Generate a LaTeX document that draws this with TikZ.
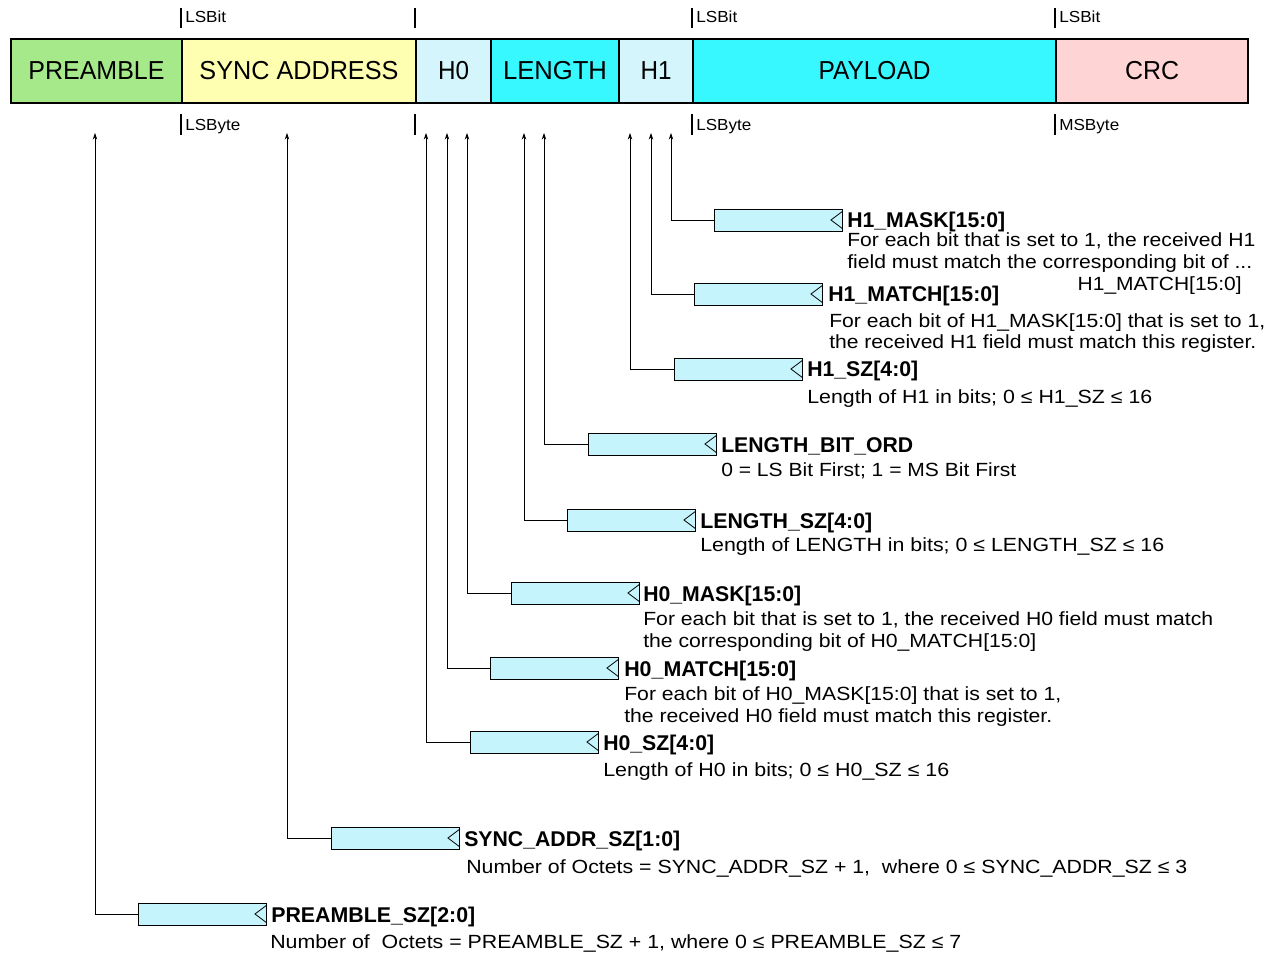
\documentclass[tikz,border=0pt]{standalone}
\usepackage{fontspec}
\setmainfont{Liberation Sans}
\usepackage{graphicx}
\usetikzlibrary{arrows.meta,calc}
\newlength\pxu
\setlength\pxu{0.75pt}
\newcommand\fitw[2]{\resizebox{#1\pxu}{\height}{#2}}
\newcommand\descfont{\fontsize{14.3}{17}\selectfont}
\newcommand\ttlfont{\fontsize{16}{19}\selectfont\bfseries}
\newcommand\smallfont{\fontsize{12}{14}\selectfont}
\newcommand\fieldfont{\fontsize{19.5}{23}\selectfont}
\definecolor{cPre}{HTML}{A6E98A}
\definecolor{cSync}{HTML}{FFFFB2}
\definecolor{cHdr}{HTML}{D4F5FC}
\definecolor{cLen}{HTML}{38F8FF}
\definecolor{cCrc}{HTML}{FFD4D4}
\definecolor{cReg}{HTML}{C6F4FC}
\tikzset{
  field/.style={draw=black, line width=1.5pt, minimum height=48pt, inner sep=0pt, anchor=west, font=\fieldfont},
  regbox/.style={draw=black, line width=0.7pt, fill=cReg, minimum width=96pt, minimum height=16.5pt, inner sep=0pt, anchor=west},
  notch/.style={draw=black, line width=0.6pt},
  conn/.style={draw=black, line width=0.6pt, -{Stealth[length=5pt,width=3.4pt]}},
  tickmark/.style={draw=black, line width=1.1pt},
  ttl/.style={inner sep=0pt, anchor=base west, font=\ttlfont},
  desc/.style={inner sep=0pt, anchor=base west, font=\descfont},
  lbl/.style={inner sep=0pt, anchor=base west, font=\smallfont}
}
\begin{document}
\begin{tikzpicture}[x=0.75pt,y=-0.75pt]
\useasboundingbox (0,0) rectangle (1277,955);
% fields
\node[field, fill=cPre, minimum width=128.25pt] (fpre) at (10,71) {\fitw{136}{PREAMBLE}};
\node[field, fill=cSync, minimum width=175.5pt] (fsync) at (181,71) {\fitw{199}{SYNC ADDRESS}};
\node[field, fill=cHdr, minimum width=56.25pt] (fh0) at (415,71) {\fitw{31}{H0}};
\node[field, fill=cLen, minimum width=96pt] (flen) at (490,71) {\fitw{104}{LENGTH}};
\node[field, fill=cHdr, minimum width=55.5pt] (fh1) at (618,71) {\fitw{31}{H1}};
\node[field, fill=cLen, minimum width=272.25pt] (fpay) at (692,71) {\fitw{112}{PAYLOAD}};
\node[field, fill=cCrc, minimum width=144pt] (fcrc) at (1055,71) {\fitw{54}{CRC}};
% ticks
\foreach \x in {181,415,692,1055}{
  \draw[tickmark] (\x,8) -- (\x,28);
  \draw[tickmark] (\x,114) -- (\x,135);
}
\node[lbl] (l1) at (185,23) {\fitw{41}{LSBit}};
\node[lbl] (l2) at (696,23) {\fitw{41}{LSBit}};
\node[lbl] (l3) at (1059,23) {\fitw{41}{LSBit}};
\node[lbl] (l4) at (185,131) {\fitw{55}{LSByte}};
\node[lbl] (l5) at (696,131) {\fitw{55}{LSByte}};
\node[lbl] (l6) at (1059,131) {\fitw{60}{MSByte}};
% register boxes
\node[regbox] (r1) at (714,220) {};
\node[regbox] (r2) at (694,294) {};
\node[regbox] (r3) at (674,369) {};
\node[regbox] (r4) at (588,444) {};
\node[regbox] (r5) at (567,520) {};
\node[regbox] (r6) at (511,593) {};
\node[regbox] (r7) at (490,668) {};
\node[regbox] (r8) at (470,742) {};
\node[regbox] (r9) at (331,838) {};
\node[regbox] (r10) at (138,914) {};
% connectors and notches
\foreach \n/\cx in {r1/671,r2/651,r3/630,r4/544,r5/524,r6/467,r7/447,r8/426,r9/287,r10/95}{
  \coordinate (a\n) at (\cx,133);
  \draw[conn] (\n.west) -| (a\n);
  \draw[notch] ($(\n.north east)+(0,2.5)$) -- ($(\n.east)+(-12,0)$) -- ($(\n.south east)+(0,-2.5)$);
}
% texts
\node[ttl] (t1) at (847,228) {\fitw{158}{H1\_MASK[15:0]}};
\node[desc] (d1a) at (847,247) {\fitw{408}{For each bit that is set to 1, the received H1}};
\node[desc] (d1b) at (847,269) {\fitw{405}{field must match the corresponding bit of ...}};
\node[desc, anchor=base east] (d1c) at (1242,291) {\fitw{164}{H1\_MATCH[15:0]}};
\node[ttl] (t2) at (828,302) {\fitw{171}{H1\_MATCH[15:0]}};
\node[desc] (d2a) at (829,327) {\fitw{436}{For each bit of H1\_MASK[15:0] that is set to 1,}};
\node[desc] (d2b) at (829,349) {\fitw{427}{the received H1 field must match this register.}};
\node[ttl] (t3) at (807,377) {\fitw{111}{H1\_SZ[4:0]}};
\node[desc] (d3a) at (807,403) {\fitw{345}{Length of H1 in bits; 0 ≤ H1\_SZ ≤ 16}};
\node[ttl] (t4) at (721,452) {\fitw{192}{LENGTH\_BIT\_ORD}};
\node[desc] (d4a) at (721,476) {\fitw{295}{0 = LS Bit First; 1 = MS Bit First}};
\node[ttl] (t5) at (700,528) {\fitw{172}{LENGTH\_SZ[4:0]}};
\node[desc] (d5a) at (700,551) {\fitw{464}{Length of LENGTH in bits; 0 ≤ LENGTH\_SZ ≤ 16}};
\node[ttl] (t6) at (643,601) {\fitw{158}{H0\_MASK[15:0]}};
\node[desc] (d6a) at (643,625) {\fitw{570}{For each bit that is set to 1, the received H0 field must match}};
\node[desc] (d6b) at (643,647) {\fitw{393}{the corresponding bit of H0\_MATCH[15:0]}};
\node[ttl] (t7) at (624,676) {\fitw{172}{H0\_MATCH[15:0]}};
\node[desc] (d7a) at (624,700) {\fitw{437}{For each bit of H0\_MASK[15:0] that is set to 1,}};
\node[desc] (d7b) at (624,722) {\fitw{428}{the received H0 field must match this register.}};
\node[ttl] (t8) at (603,750) {\fitw{111}{H0\_SZ[4:0]}};
\node[desc] (d8a) at (603,776) {\fitw{346}{Length of H0 in bits; 0 ≤ H0\_SZ ≤ 16}};
\node[ttl] (t9) at (464,846) {\fitw{216}{SYNC\_ADDR\_SZ[1:0]}};
\node[desc] (d9a) at (466,873) {\fitw{721}{Number of Octets = SYNC\_ADDR\_SZ + 1,~ where 0 ≤ SYNC\_ADDR\_SZ ≤ 3}};
\node[ttl] (t10) at (271,922) {\fitw{204}{PREAMBLE\_SZ[2:0]}};
\node[desc] (d10a) at (270,948) {\fitw{691}{Number of~ Octets = PREAMBLE\_SZ + 1, where 0 ≤ PREAMBLE\_SZ ≤ 7}};
\end{tikzpicture}
\end{document}
